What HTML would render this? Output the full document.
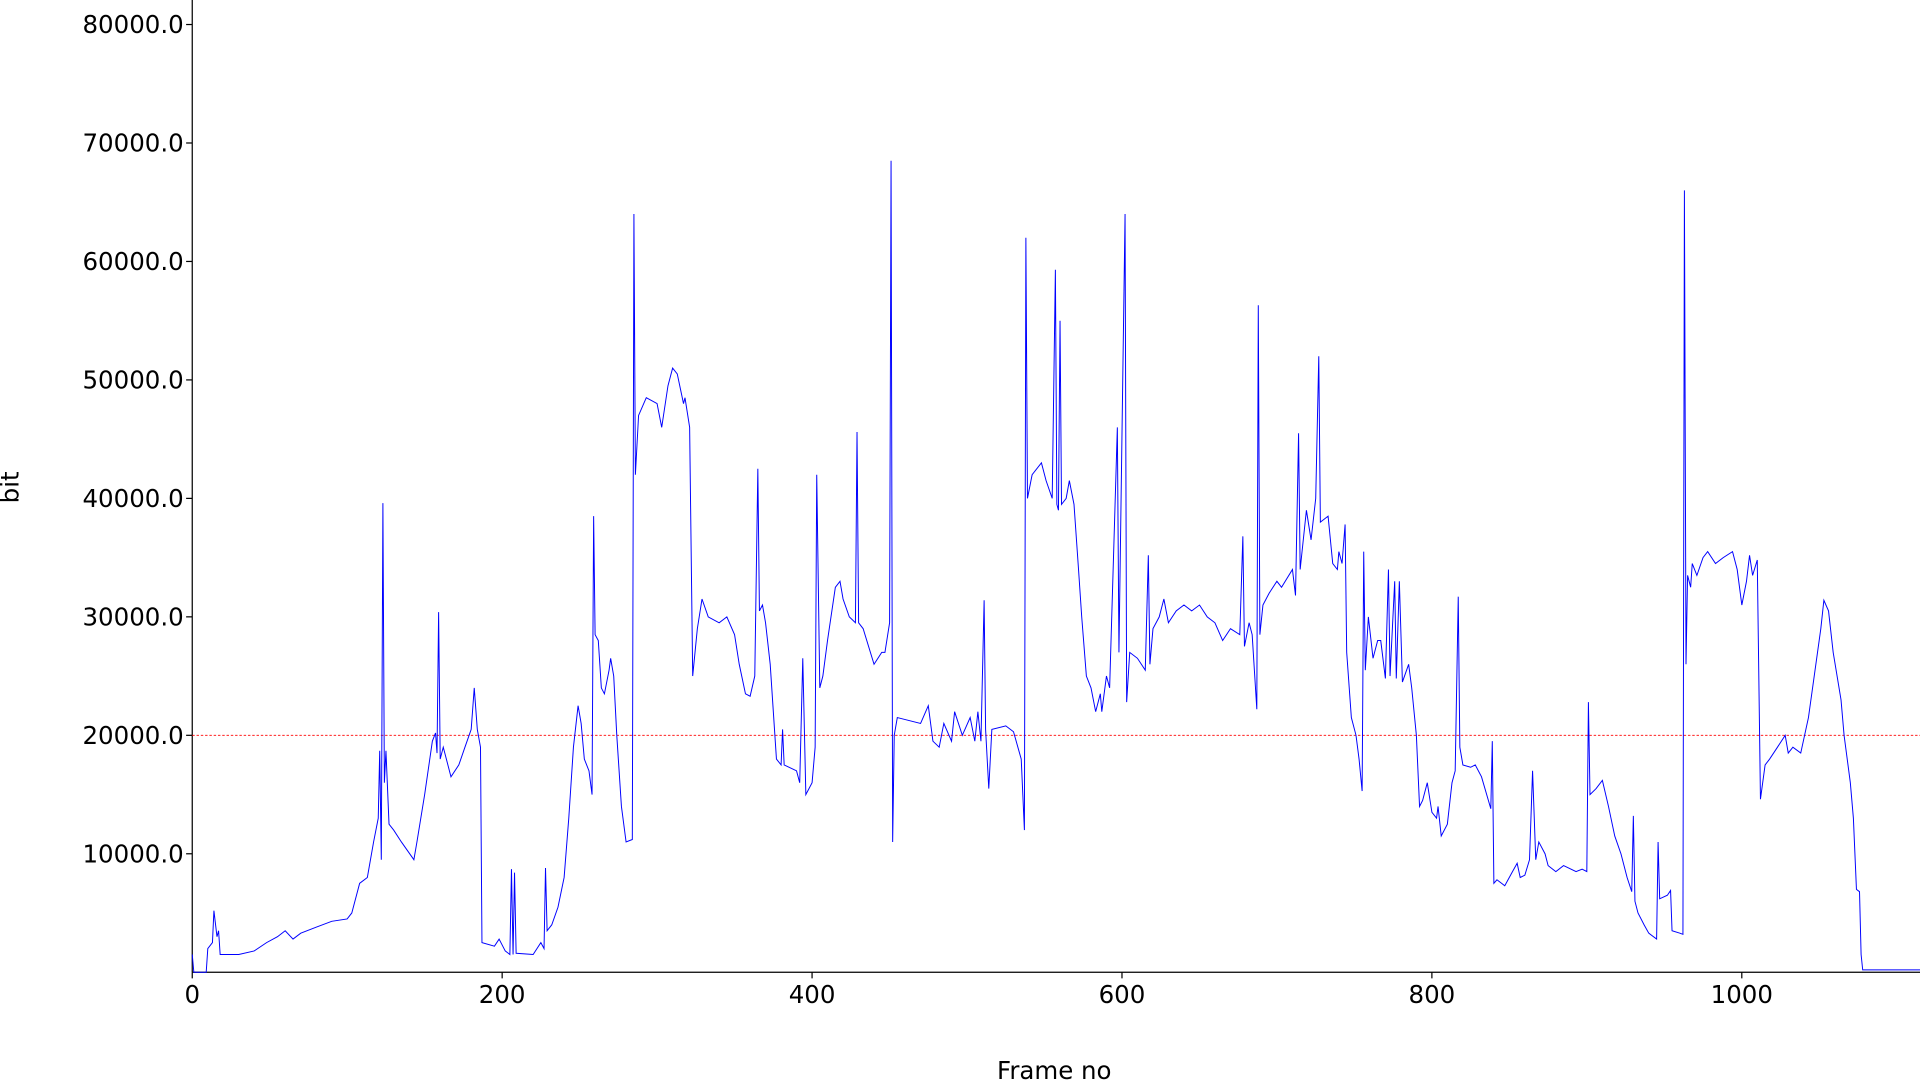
<!DOCTYPE html>
<html><head><meta charset="utf-8">
<style>
html,body{margin:0;padding:0;background:#fff;overflow:hidden;}
svg{display:block;font-family:"DejaVu Sans","Liberation Sans",sans-serif;}
</style></head>
<body>
<svg id="chart" width="1920" height="1080" viewBox="0 0 1568 882" preserveAspectRatio="none" xmlns="http://www.w3.org/2000/svg">
<g id="grid"></g>
<g id="axes"></g>
<g id="plot"></g>
<text x="15" y="398" font-size="20" text-anchor="middle" transform="rotate(-90 15 398)">bit</text>
<text x="861" y="881" font-size="20" text-anchor="middle">Frame no</text>
</svg>
<script>
const frames = [0,1,9,10,13,14,16,17,18,30,40,48,55,60,65,70,80,90,100,103,108,113,117,120,121,122,123,124,125,127,130,135,143,145,150,155,157,158,159,160,162,167,172,176,180,182,184,186,187,195,198,202,205,206,207,208,209,220,225,227,228,229,232,236,240,243,246,249,251,253,256,258,259,260,262,264,266,269,270,272,274,277,280,284,285,286,288,293,300,303,307,310,313,317,318,321,323,326,329,333,340,345,350,353,357,360,363,365,366,368,370,373,377,380,381,382,390,392,394,396,400,402,403,405,407,410,415,418,420,424,428,429,430,433,440,445,447,450,451,452,453,455,470,475,478,482,485,490,492,497,502,505,507,509,511,512,514,516,525,530,535,537,538,539,542,548,551,555,557,558,559,560,561,564,566,569,572,574,577,580,583,586,587,590,592,597,598,602,603,605,610,615,617,618,620,624,627,630,635,640,645,650,655,660,665,670,676,678,679,682,684,687,688,689,691,695,700,703,710,712,714,715,719,722,725,727,728,733,736,739,740,742,744,745,748,751,753,755,756,757,759,762,765,767,770,772,773,776,777,779,781,785,787,790,792,794,797,800,803,804,806,810,813,815,817,818,820,825,828,832,838,839,840,842,847,852,855,857,860,863,865,867,869,873,875,880,885,893,897,900,901,902,906,910,914,918,922,926,929,930,931,933,937,940,945,946,947,952,954,955,960,962,963,964,965,967,968,971,975,978,983,988,994,997,1000,1003,1005,1007,1010,1012,1015,1018,1023,1028,1030,1033,1038,1043,1051,1053,1056,1059,1064,1066,1070,1072,1074,1076,1077,1078,1115];
const bits = [1500,0,0,2000,2500,5200,3000,3500,1500,1500,1800,2500,3000,3500,2800,3300,3800,4300,4500,5000,7500,8000,11000,13000,18700,9500,39600,16000,18700,12500,12000,11000,9500,11000,15000,19500,20200,18500,30400,18000,19000,16500,17500,19000,20500,24000,20500,19000,2500,2200,2800,1800,1500,8700,1500,8400,1600,1500,2500,2000,8800,3500,4000,5500,8000,13000,19000,22500,21000,18000,17000,15000,38500,28500,28000,24000,23500,25500,26500,25000,20000,14000,11000,11200,64000,42000,47000,48500,48000,46000,49500,51000,50500,48000,48500,46000,25000,29000,31500,30000,29500,30000,28500,26000,23500,23300,25000,42500,30500,31000,29500,26000,18000,17500,20500,17500,17000,16000,26500,15000,16000,19000,42000,24000,25000,28000,32500,33000,31500,30000,29500,45600,29500,29000,26000,27000,27000,29500,68500,11000,20000,21500,21000,22500,19500,19000,21000,19500,22000,20000,21500,19500,22000,19500,31400,20500,15500,20500,20800,20300,18000,12000,62000,40000,42000,43000,41500,40000,59300,39500,39000,55000,39500,40000,41500,39500,34000,30000,25000,24000,22000,23500,22000,25000,24000,46000,27000,64000,22800,27000,26500,25500,35200,26000,29000,30000,31500,29500,30500,31000,30500,31000,30000,29500,28000,29000,28500,36800,27500,29500,28500,22200,56300,28500,31000,32000,33000,32500,34000,31800,45500,34000,39000,36500,40000,52000,38000,38500,34500,34000,35500,34500,37800,27000,21500,20000,18000,15300,35500,25500,30000,26500,28000,28000,24800,34000,25000,33000,24800,33000,24500,26000,24000,20000,14000,14500,16000,13500,13000,14000,11500,12500,16000,17000,31700,19000,17500,17300,17500,16500,13800,19500,7500,7800,7300,8500,9200,8000,8200,9500,17000,9500,11000,10000,9000,8500,9000,8500,8700,8500,22800,15000,15500,16200,14000,11500,10000,8000,6800,13200,6000,5000,4000,3300,2800,11000,6200,6500,6900,3500,3300,3200,66000,26000,33500,32500,34500,33500,35000,35500,34500,35000,35500,34000,31000,33000,35200,33500,34800,14600,17500,18000,19000,20000,18500,19000,18500,21500,29000,31400,30500,27000,23000,20000,16000,13000,7000,6800,1500,200,200];
const yTicks = [10000,20000,30000,40000,50000,60000,70000,80000];
const xTicks = [0,200,400,600,800,1000];
const targetBits = [20000];

const L=157,R=1568,T=0,B=794;
const xMin=0,xMax=1115,yMin=0,yMax=82070;
const sx=v=>L+(v-xMin)/(xMax-xMin)*(R-L);
const sy=v=>B-(v-yMin)/(yMax-yMin)*(B-T);
const NS="http://www.w3.org/2000/svg";
const axes=document.getElementById('axes');
const plot=document.getElementById('plot');
function mk(tag,attrs,parent){const e=document.createElementNS(NS,tag);for(const k in attrs)e.setAttribute(k,attrs[k]);parent.appendChild(e);return e;}

let sp=mk('line',{x1:L,y1:T,x2:L,y2:B,stroke:'#000','stroke-width':1},axes);


sp=mk('line',{x1:L,y1:B,x2:R,y2:B,stroke:'#000','stroke-width':1},axes);



yTicks.forEach(v=>{
  const y=sy(v);
  const t=mk('line',{x1:L-5,y1:y,x2:L,y2:y,stroke:'#000'},axes);
  
  
  const tx=mk('text',{x:L-7,y:y+7,'font-size':20,'text-anchor':'end'},axes);
  tx.textContent=v.toFixed(1);
  
  
});
xTicks.forEach(v=>{
  const x=sx(v);
  const t=mk('line',{x1:x,y1:B,x2:x,y2:B+5,stroke:'#000'},axes);
  
  
  const tx=mk('text',{x:x,y:B+25,'font-size':20,'text-anchor':'middle'},axes);
  tx.textContent=String(v);
  
  
});

targetBits.forEach(v=>{
  const ln=mk('line',{x1:L,y1:sy(v),x2:R,y2:sy(v),stroke:'#ff0000','stroke-width':0.8,'stroke-dasharray':'2,1.5'},plot);
  
  
});

const pts=frames.map((f,i)=>sx(f).toFixed(1)+','+sy(bits[i]).toFixed(1)).join(' ');
const pl=mk('polyline',{points:pts,fill:'none',stroke:'#0000ff','stroke-width':0.8,'stroke-linejoin':'miter'},plot);


</script>
</body></html>
